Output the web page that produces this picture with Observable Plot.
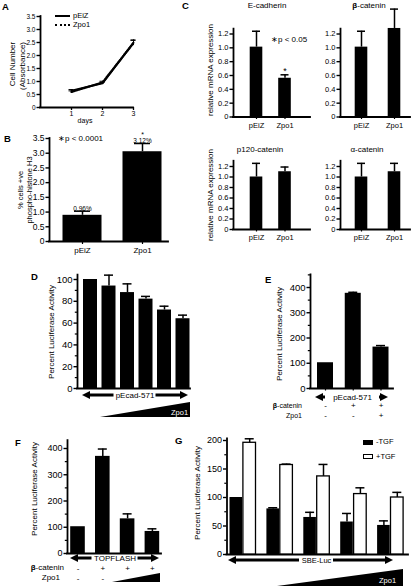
<!DOCTYPE html>
<html><head><meta charset="utf-8">
<script src="https://cdn.jsdelivr.net/npm/d3@7"></script>
<script src="https://cdn.jsdelivr.net/npm/@observablehq/plot@0.6"></script>
<style>
html,body{margin:0;padding:0;background:#fff;}
#fig{position:relative;width:415px;height:587px;overflow:hidden;font-family:"Liberation Sans",Arial,Helvetica,sans-serif;color:#000;background:#fff;}
#fig svg{position:absolute;left:0;top:0;}
.t{position:absolute;white-space:nowrap;line-height:1;}
.box{position:absolute;box-sizing:border-box;}
</style></head><body><div id="fig"></div><script>
// ---------- data ----------
const days = [1, 2, 3];
const growthPEiZ = [0.65, 0.93, 2.5];
const growthPEiZErr = [0.04, 0.04, 0.1];
const growthZpo1 = [0.6, 0.96, 2.48];
const growthZpo1Err = [0.04, 0.05, 0.1];

const groups = ["pEiZ", "Zpo1"];
const phosphoH3 = [0.89, 3.05];
const phosphoH3ErrTop = [1.03, 3.33];
const phosphoH3Labels = ["0.96%", "3.12%"];

const ecad = [1.01, 0.56], ecadErrTop = [1.24, 0.61];
const bcat = [1.01, 1.28], bcatErrTop = [1.24, 1.56];
const p120 = [1.0, 1.1], p120ErrTop = [1.26, 1.19];
const acat = [1.0, 1.1], acatErrTop = [1.26, 1.26];

const pecadZpo1 = [100, 94, 88, 82, 72, 64];
const pecadZpo1ErrTop = [100, 104, 96, 84.5, 75.5, 67.3];

const pecadBcat = [102, 377, 164];
const pecadBcatErrTop = [102, 381, 170];
const rowBcatE = ["-", "+", "+"];
const rowZpo1E = ["-", "-", "+"];

const topflash = [102, 370, 132, 84];
const topflashErrTop = [102, 398, 151, 94];
const rowBcatF = ["-", "+", "+", "+"];
const rowZpo1F = ["-", "-"];

const sbeMinusTGF = [100, 80, 65, 57, 51];
const sbeMinusTGFErrTop = [100, 82, 74, 72, 59];
const sbePlusTGF = [196, 157, 137, 106, 100];
const sbePlusTGFErrTop = [203, 158.6, 158, 117, 109];

// ---------- helpers ----------
const W = 415, H = 587;
const FONT = '"Liberation Sans", Arial, Helvetica, sans-serif';
const fig = document.getElementById("fig");
const fmt1 = d => d === 0 ? "0" : d.toFixed(1);
const fmtI = d => String(d);

function panel(s, build) {
  const xv0 = (s.x0 - s.c0) / s.step, xv1 = (s.x1 - s.c0) / s.step;
  const yTop = s.zero - s.top * s.ppu;
  const sc = {xv0, xv1, top: s.top,
    ux: p => p / s.step, uy: p => p / s.ppu,
    X: p => (p - s.c0) / s.step};
  const chart = Plot.plot({
    width: W, height: H,
    marginLeft: s.x0, marginRight: W - s.x1, marginTop: yTop, marginBottom: H - s.zero,
    x: {type: "linear", domain: [xv0, xv1], axis: null},
    y: {type: "linear", domain: [0, s.top], axis: null},
    style: {background: "transparent", overflow: "visible", fontFamily: FONT, color: "black"},
    marks: build(sc).flat(2).filter(Boolean)
  });
  fig.appendChild(chart);
}

function yAxis(sc, ticks, fmt, fs, minor) {
  return [
    Plot.axisY({ticks, tickFormat: fmt, tickSize: 3.5, tickPadding: 1.5, fontSize: fs, strokeWidth: 1.4, label: null}),
    minor ? Plot.axisY({ticks: minor, tickFormat: () => "", tickSize: 2.2, strokeWidth: 1.2, label: null}) : null,
    Plot.ruleX([sc.xv0], {y1: 0, y2: sc.top, strokeWidth: 1.8, strokeLinecap: "square"}),
    Plot.ruleY([0], {x1: sc.xv0, x2: sc.xv1, strokeWidth: 1.8, strokeLinecap: "square"})
  ];
}

function bars(sc, vals, errs, {hw, cap, fill = "black", off = 0}) {
  const data = vals.map((v, i) => ({i: i + off, v, e: errs[i]}));
  const err = data.filter(d => d.e > d.v);
  const h = sc.ux(hw), c = sc.ux(cap);
  return [
    Plot.rect(data, {x1: d => d.i - h, x2: d => d.i + h, y1: 0, y2: "v", fill,
      stroke: fill === "black" ? null : "black", strokeWidth: 1.3}),
    Plot.ruleX(err, {x: "i", y1: "v", y2: "e", strokeWidth: 1.5}),
    Plot.ruleY(err, {y: "e", x1: d => d.i - c, x2: d => d.i + c, strokeWidth: 1.5})
  ];
}

function catAxis(labels, {size = 2.5, pad = 3, fs = 8} = {}) {
  return Plot.axisX({ticks: labels.map((_, i) => i), tickFormat: i => labels[i] ?? "",
    tickSize: size, tickPadding: pad, fontSize: fs, strokeWidth: 1.2, label: null});
}

// double-headed arrow below the x axis: xa, xb, tc in x units; yc, gap in px
function arrow(sc, {xa, xb, yc, text, tc, gap, fs = 8}) {
  const Yc = -sc.uy(yc), hh = sc.uy(4), sw = sc.uy(1.5), hl = sc.ux(8);
  const heads = [
    [{x: xa, y1: Yc, y2: Yc}, {x: xa + hl, y1: Yc - hh, y2: Yc + hh}],
    [{x: xb - hl, y1: Yc - hh, y2: Yc + hh}, {x: xb, y1: Yc, y2: Yc}]
  ];
  return [
    Plot.rect([0], {x1: xa + hl * 0.9, x2: xb - hl * 0.9, y1: Yc - sw, y2: Yc + sw, fill: "black"}),
    Plot.rect([0], {x1: tc - sc.ux(gap), x2: tc + sc.ux(gap), y1: Yc - sw * 2, y2: Yc + sw * 2, fill: "white"}),
    heads.map(h => Plot.area(h, {x1: "x", y1: "y1", y2: "y2", fill: "black"})),
    Plot.text([text], {x: tc, y: Yc, text: d => d, fontSize: fs})
  ];
}

// rising wedge for increasing Zpo1: xt, xr in x units; yb, yt, ly in px below axis
function wedge(sc, {xt, xr, yb, yt, label, lx, ly, fs = 7.5}) {
  const B = -sc.uy(yb), T = -sc.uy(yt);
  return [
    Plot.area([{x: xt, y1: B, y2: B}, {x: xr, y1: B, y2: T}], {x1: "x", y1: "y1", y2: "y2", fill: "black"}),
    label ? Plot.text([label], {x: lx, y: -sc.uy(ly), text: d => d, fill: "white", fontSize: fs}) : null
  ];
}

function signRow(signs, dy, fs = 8) {
  return Plot.text(signs.map((s, i) => ({i, s})), {x: "i", y: 0, dy, text: "s", fontSize: fs,
    fontWeight: d => d.s === "+" ? "bold" : "normal"});
}

function txt(str, x, y, o = {}) {
  const el = document.createElement("div");
  el.className = "t";
  el.innerHTML = str;
  el.style.left = x + "px"; el.style.top = y + "px";
  el.style.fontSize = (o.size || 8) + "px";
  if (o.bold) el.style.fontWeight = "bold";
  const ax = o.anchor === "middle" ? "-50%" : o.anchor === "end" ? "-100%" : "0";
  el.style.transform = o.rot ? "translate(-50%,-50%) rotate(-90deg)" : `translate(${ax},-50%)`;
  fig.appendChild(el);
}
function box(x, y, w, h, style) {
  const el = document.createElement("div");
  el.className = "box";
  Object.assign(el.style, {left: x + "px", top: y + "px", width: w + "px", height: h + "px"}, style);
  fig.appendChild(el);
}

// ---------- A: growth curves ----------
const growth = days.map((d, i) => ({day: d, peiz: growthPEiZ[i], pe: growthPEiZErr[i], zpo1: growthZpo1[i], ze: growthZpo1Err[i]}));
panel({x0: 40, x1: 133, c0: 40, step: 31, zero: 107, ppu: 26, top: 3.5}, sc => [
  yAxis(sc, [0, 0.5, 1, 1.5, 2, 2.5, 3, 3.5], fmt1, 6.5),
  Plot.axisX({ticks: days, tickFormat: fmtI, tickSize: 3, tickPadding: 0.5, fontSize: 7, strokeWidth: 1.3, label: null}),
  Plot.ruleX(growth, {x: "day", y1: d => d.peiz - d.pe, y2: d => d.peiz + d.pe, strokeWidth: 1}),
  Plot.ruleY(growth, {y: d => d.peiz + d.pe, x1: d => d.day - sc.ux(2.5), x2: d => d.day + sc.ux(2.5), strokeWidth: 1}),
  Plot.ruleX(growth, {x: "day", y1: d => d.zpo1 - d.ze, y2: d => d.zpo1 + d.ze, strokeWidth: 1}),
  Plot.ruleY(growth, {y: d => d.zpo1 + d.ze, x1: d => d.day - sc.ux(2.5), x2: d => d.day + sc.ux(2.5), strokeWidth: 1}),
  Plot.line(growth, {x: "day", y: "peiz", strokeWidth: 2}),
  Plot.line(growth, {x: "day", y: "zpo1", strokeWidth: 2.3, strokeDasharray: "1.3,1.3"})
]);

// ---------- B: phospho-histone H3 ----------
panel({x0: 49, x1: 168, c0: 82, step: 60, zero: 241, ppu: 103 / 3.5, top: 3.5}, sc => [
  yAxis(sc, [0, 0.5, 1, 1.5, 2, 2.5, 3, 3.5], fmt1, 8.5),
  catAxis(groups, {size: 3, pad: 3, fs: 8}),
  bars(sc, phosphoH3, phosphoH3ErrTop, {hw: 19.5, cap: 8}),
  Plot.text(phosphoH3Labels.map((t, i) => ({i, t, e: phosphoH3ErrTop[i]})),
    {x: "i", y: "e", text: "t", lineAnchor: "bottom", dy: -0.5, fontSize: 6.5}),
  Plot.text(["*"], {x: 1, y: phosphoH3ErrTop[1], text: d => d, dy: -9, fontSize: 7})
]);

// ---------- C: qPCR ----------
const cTop = {zero: 116.5, ppu: 83 / 1.2, top: 1.27};
const cBot = {zero: 229, ppu: 52.5, top: 1.3};
const cLeft = {x0: 233, x1: 310, c0: 256, step: 28.5};
const cRight = {x0: 340, x1: 410, c0: 361, step: 33};
const cTicks = [0, 0.2, 0.4, 0.6, 0.8, 1.0, 1.2];
[[cLeft, cTop, ecad, ecadErrTop, 3.5], [cRight, cTop, bcat, bcatErrTop, 3.5],
 [cLeft, cBot, p120, p120ErrTop, 3], [cRight, cBot, acat, acatErrTop, 3]].forEach(([cx, cy, v, e, pad], k) => {
  panel({...cx, ...cy}, sc => [
    yAxis(sc, cTicks, fmt1, 7.5),
    catAxis(groups, {size: 2.5, pad, fs: 7.5}),
    bars(sc, v, e, {hw: 6.3, cap: 4}),
    k === 0 ? Plot.text(["*"], {x: 1, y: e[1], text: d => d, dy: -4, fontSize: 9}) : null
  ]);
});

// ---------- D: pEcad-571 vs Zpo1 dose ----------
panel({x0: 77, x1: 190, c0: 90, step: 18.5, zero: 388, ppu: 1.09, top: 104}, sc => [
  yAxis(sc, [0, 20, 40, 60, 80, 100], fmtI, 9.5, [10, 30, 50, 70, 90]),
  bars(sc, pecadZpo1, pecadZpo1ErrTop, {hw: 7, cap: 4.5}),
  arrow(sc, {xa: sc.X(82), xb: sc.X(188), yc: 7, text: "pEcad-571", tc: sc.X(134.5), gap: 21, fs: 8}),
  wedge(sc, {xt: sc.X(100), xr: sc.xv1, yb: 29, yt: 14, label: "Zpo1", lx: sc.X(179), ly: 24.5, fs: 7.5})
]);

// ---------- E: pEcad-571 with beta-catenin ----------
panel({x0: 310, x1: 393, c0: 325, step: 27.75, zero: 388, ppu: 0.2525, top: 450}, sc => [
  yAxis(sc, [0, 100, 200, 300, 400], fmtI, 9.5, [50, 150, 250, 350, 450]),
  Plot.axisX({ticks: [0, 1, 2], tickFormat: () => "", tickSize: 2.5, strokeWidth: 1.2, label: null}),
  bars(sc, pecadBcat, pecadBcatErrTop, {hw: 8, cap: 4.5}),
  arrow(sc, {xa: sc.X(315), xb: sc.X(388), yc: 9, text: "pEcad-571", tc: sc.X(352), gap: 27, fs: 8}),
  signRow(rowBcatE, 17, 8),
  signRow(rowZpo1E, 27, 8)
]);

// ---------- F: TOPFLASH ----------
panel({x0: 67, x1: 161, c0: 77.5, step: 24.8, zero: 553, ppu: 0.2625, top: 430}, sc => [
  yAxis(sc, [0, 100, 200, 300, 400], fmtI, 9, [50, 150, 250, 350]),
  bars(sc, topflash, topflashErrTop, {hw: 7.3, cap: 4.5}),
  arrow(sc, {xa: sc.X(70), xb: sc.X(159), yc: 5, text: "TOPFLASH", tc: sc.X(114.5), gap: 23, fs: 8}),
  signRow(rowBcatF, 15, 8),
  signRow(rowZpo1F, 25, 8),
  wedge(sc, {xt: sc.X(112), xr: sc.X(160), yb: 29, yt: 20})
]);

// ---------- G: SBE-Luc ----------
panel({x0: 226.5, x1: 408, c0: 242.5, step: 36.9, zero: 554, ppu: 0.57, top: 203}, sc => [
  yAxis(sc, [0, 50, 100, 150, 200], fmtI, 9, [25, 75, 125, 175]),
  bars(sc, sbeMinusTGF, sbeMinusTGFErrTop, {hw: 6.3, cap: 4.5, off: -sc.ux(6.7)}),
  bars(sc, sbePlusTGF, sbePlusTGFErrTop, {hw: 6.3, cap: 4.5, fill: "white", off: sc.ux(6.7)}),
  arrow(sc, {xa: sc.X(228), xb: sc.X(393), yc: 6, text: "SBE-Luc", tc: sc.X(316), gap: 17, fs: 7.5}),
  wedge(sc, {xt: sc.X(277), xr: sc.X(403), yb: 32, yt: 15, label: "Zpo1", lx: sc.X(387), ly: 26, fs: 7.5})
]);

// ---------- text ----------
[["A", 2, 6.5], ["B", 4, 139], ["C", 182, 5.5], ["D", 31, 277], ["E", 265, 279.5], ["F", 15, 442.5], ["G", 175, 440.5]]
  .forEach(([l, x, y]) => txt(l, x, y, {bold: true, size: 9.5}));

// A
txt("Cell Number", 13, 64, {rot: true, size: 8});
txt("(Absorbance)", 22.5, 66, {rot: true, size: 8});
txt("days", 85, 120, {anchor: "middle", size: 7});
box(55, 15, 15, 2, {background: "#000"});
txt("pEiZ", 73, 16, {size: 7.5});
box(55, 23.5, 15, 2, {borderTop: "2px dotted #000"});
txt("Zpo1", 73, 24.5, {size: 7.5});

// B
txt("% cells +ve", 20.5, 190, {rot: true, size: 7.5});
txt("phospho-histone H3", 30, 190, {rot: true, size: 7.5});
txt("∗p &lt; 0.0001", 58, 138.5, {size: 8});

// C
txt("E-cadherin", 267, 6, {anchor: "middle", size: 8});
txt("<b>β</b>-catenin", 369, 6, {anchor: "middle", size: 8});
txt("p120-catenin", 260, 150, {anchor: "middle", size: 8});
txt("α-catenin", 367, 150, {anchor: "middle", size: 8});
txt("relative mRNA expression", 210.5, 70, {rot: true, size: 8});
txt("relative mRNA expression", 210.5, 195, {rot: true, size: 8});
txt("∗p &lt; 0.05", 271, 40, {size: 8});

// D-G axis titles
txt("Percent Luciferase Activity", 52, 332, {rot: true, size: 8});
txt("Percent Luciferase Activity", 280, 334, {rot: true, size: 8});
txt("Percent Luciferase Activity", 35, 489, {rot: true, size: 8});
txt("Percent Luciferase Activity", 198, 493, {rot: true, size: 8});

// E rows
txt("<b>β</b>-catenin", 302, 405, {anchor: "end", size: 7});
txt("Zpo1", 302, 415, {anchor: "end", size: 7});
// F rows
txt("<b>β</b>-catenin", 64, 568, {anchor: "end", size: 8});
txt("Zpo1", 60, 578, {anchor: "end", size: 8});

// G legend
box(363, 439.5, 10, 5.5, {background: "#000"});
txt("-TGF", 376, 442, {size: 7.5});
box(363, 453.5, 10, 5.5, {border: "1.2px solid #000", background: "#fff"});
txt("+TGF", 376, 456.5, {size: 7.5});
</script></body></html>
